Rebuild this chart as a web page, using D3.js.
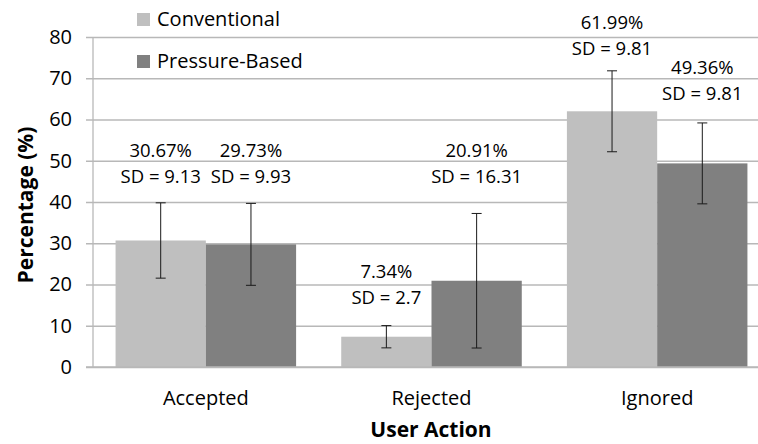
<!DOCTYPE html>
<html><head><meta charset="utf-8">
<script src="https://cdn.jsdelivr.net/npm/d3@7"></script>
<style>body{margin:0;background:#fff}svg{display:block}text{font-family:"Open Sans",sans-serif}</style>
</head><body>
<script>
// ---- data ----
const categories = ["Accepted", "Rejected", "Ignored"];
const seriesNames = ["Conventional", "Pressure-Based"];
const conventional = [30.67, 7.34, 61.99];
const pressureBased = [29.73, 20.91, 49.36];
const sdConventional = [9.13, 2.7, 9.81];
const sdPressure = [9.93, 16.31, 9.81];
const yTicks = [0, 10, 20, 30, 40, 50, 60, 70, 80];

// label anchor (value units, second line baseline)
const labelAnchorConv = [44.6, 15.3, 75.6];
const labelAnchorPres = [44.6, 44.6, 64.7];

(function () {
const W = 758, H = 444;
const mLeft = 93, mRight = 770, mTop = 37, mBottom = 367;
const colors = ["#bfbfbf", "#808080"];
const FS = 20;      // axis / legend text
const FSL = 18.5;   // data labels

const svg = d3.select("body").append("svg").attr("width", W).attr("height", H);

const x = d3.scaleBand().domain(categories).range([mLeft, mRight]).paddingInner(0.2).paddingOuter(0.1);
const xs = d3.scaleBand().domain(seriesNames).range([0, x.bandwidth()]);
const y = d3.scaleLinear().domain([0, 80]).range([mBottom, mTop]);

// gridlines + y axis
const yAxis = d3.axisLeft(y).tickValues(yTicks).tickSize(-(W - mLeft)).tickPadding(21);
const ga = svg.append("g").attr("transform", `translate(${mLeft},0)`).call(yAxis);
ga.select(".domain").remove();
ga.selectAll(".tick line").attr("stroke", "#b8b8b8").attr("stroke-width", 1.3).attr("x1", -7);
ga.selectAll(".tick text").attr("font-size", FS).attr("fill", "#000").attr("font-family", "Open Sans");
svg.append("line").attr("x1", mLeft).attr("x2", mLeft).attr("y1", mTop).attr("y2", mBottom)
  .attr("stroke", "#b8b8b8").attr("stroke-width", 1.3);

const series = [
  {name: seriesNames[0], vals: conventional, sd: sdConventional, anchor: labelAnchorConv, color: colors[0]},
  {name: seriesNames[1], vals: pressureBased, sd: sdPressure, anchor: labelAnchorPres, color: colors[1]}
];

series.forEach(s => {
  const g = svg.append("g");
  categories.forEach((c, i) => {
    const bx = x(c) + xs(s.name);
    const cx = bx + xs.bandwidth() / 2;
    g.append("rect").attr("x", bx).attr("y", y(s.vals[i])).attr("width", xs.bandwidth())
      .attr("height", y(0) - y(s.vals[i])).attr("fill", s.color);
    const lo = y(s.vals[i] - s.sd[i]), hi = y(s.vals[i] + s.sd[i]);
    g.append("line").attr("x1", cx).attr("x2", cx).attr("y1", lo).attr("y2", hi).attr("stroke", "#1a1a1a").attr("stroke-width", 1);
    [lo, hi].forEach(yy => g.append("line").attr("x1", cx - 5).attr("x2", cx + 5).attr("y1", yy).attr("y2", yy)
      .attr("stroke", "#1a1a1a").attr("stroke-width", 1));
    const ly = y(s.anchor[i]);
    g.append("text").attr("x", cx).attr("y", ly - 26).attr("text-anchor", "middle").attr("font-size", FSL)
      .text(s.vals[i].toFixed(2) + "%");
    g.append("text").attr("x", cx).attr("y", ly).attr("text-anchor", "middle").attr("font-size", FSL)
      .text("SD = " + s.sd[i]);
  });
});

// x category labels
const xAxis = d3.axisBottom(x).tickSize(0).tickPadding(24);
const gx = svg.append("g").attr("transform", `translate(0,${mBottom})`).call(xAxis);
gx.select(".domain").remove();
gx.selectAll(".tick text").attr("font-size", FS).attr("fill", "#000").attr("font-family", "Open Sans");

// baseline
svg.append("line").attr("x1", mLeft - 7).attr("x2", W).attr("y1", mBottom).attr("y2", mBottom)
  .attr("stroke", "#b8b8b8").attr("stroke-width", 1.3);

// axis titles
svg.append("text").attr("x", 431).attr("y", 437).attr("text-anchor", "middle")
  .attr("font-size", 21).attr("font-weight", "bold").text("User Action");
svg.append("text").attr("transform", `translate(33,205) rotate(-90)`).attr("text-anchor", "middle")
  .attr("font-size", 21).attr("font-weight", "bold").text("Percentage (%)");

// legend
const lg = svg.append("g");
seriesNames.forEach((n, i) => {
  const yy = 26 + i * 42;
  lg.append("rect").attr("x", 137).attr("y", yy - 13).attr("width", 13).attr("height", 13).attr("fill", colors[i]);
  lg.append("text").attr("x", 157).attr("y", yy).attr("font-size", FS).text(n);
});
})();
</script>
</body></html>
